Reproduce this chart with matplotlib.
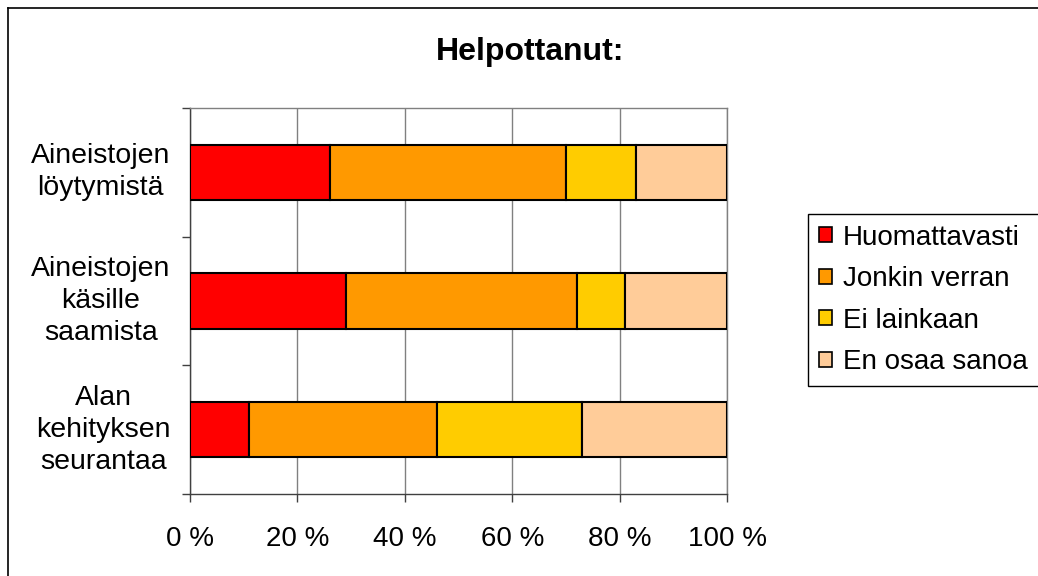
import matplotlib
matplotlib.use("Agg")
import matplotlib.pyplot as plt
from matplotlib.patches import Patch
from matplotlib.lines import Line2D
import numpy as np

plt.rcParams['font.family'] = ['Liberation Sans', 'DejaVu Sans']

categories = ["Aineistojen\nlöytymistä", "Aineistojen\nkäsille\nsaamista", "Alan\nkehityksen\nseurantaa"]
series = ["Huomattavasti", "Jonkin verran", "Ei lainkaan", "En osaa sanoa"]
huomattavasti = [26, 29, 11]
jonkin_verran = [44, 43, 35]
ei_lainkaan = [13, 9, 27]
en_osaa_sanoa = [17, 19, 27]
colors = ["#FF0000", "#FF9900", "#FFCC00", "#FFCC99"]
xticks = [0, 20, 40, 60, 80, 100]
xticklabels = ["0 %", "20 %", "40 %", "60 %", "80 %", "100 %"]
title = "Helpottanut:"

W, H = 1038, 576
fig = plt.figure(figsize=(W / 100, H / 100), dpi=100)
ax = fig.add_axes([190 / W, 1 - 494 / H, (727 - 190) / W, (494 - 108) / H])

y = np.arange(len(categories))
left = np.zeros(len(categories))
handles = []
for vals, col, name in zip([huomattavasti, jonkin_verran, ei_lainkaan, en_osaa_sanoa], colors, series):
    v = np.array(vals, dtype=float)
    ax.barh(y, v, left=left, height=0.43, color=col, edgecolor="black", linewidth=1.5, zorder=3)
    left += v
    handles.append(Patch(facecolor=col, edgecolor="black", linewidth=1.2, label=name))

ax.set_xlim(0, 100)
ax.set_ylim(len(categories) - 0.5, -0.5)
ax.set_xticks(xticks)
ax.set_xticklabels(xticklabels, fontsize=20)
ax.tick_params(axis="x", length=6, width=1, color="#404040", pad=17)
ax.set_yticks(y)
ax.set_yticklabels(categories, fontsize=20.5, va="center")
for lab in ax.get_yticklabels():
    lab.set_multialignment("center")
    lab.set_linespacing(1.3)
    lab.set_y(lab.get_position()[1])
ax.tick_params(axis="y", which="major", length=0, pad=14)
ax.set_yticks(np.arange(-0.5, len(categories), 1.0), minor=True)
ax.tick_params(axis="y", which="minor", length=6, width=1, color="#404040")

ax.grid(axis="x", color="#808080", linewidth=1, zorder=0)
ax.set_axisbelow(True)
ax.spines["top"].set_color("#808080")
ax.spines["right"].set_color("#808080")
ax.spines["left"].set_color("#404040")
ax.spines["bottom"].set_color("#404040")
for s in ax.spines.values():
    s.set_linewidth(1)

fig.text(530 / W, 1 - 52 / H, title, ha="center", va="center", fontsize=23, fontweight="bold")

leg = fig.legend(handles=handles, loc="center left", bbox_to_anchor=(808 / W, 1 - 300 / H),
                 fontsize=20, frameon=True, fancybox=False, framealpha=1, edgecolor="black",
                 handlelength=0.45, handleheight=0.45, handletextpad=0.4, labelspacing=0.56,
                 borderpad=0.4, borderaxespad=0)
leg.get_frame().set_linewidth(1)

# outer chart border
fig.add_artist(Line2D([7.5 / W, 7.5 / W], [0, 1 - 7.5 / H], transform=fig.transFigure, color="black", linewidth=1.2))
fig.add_artist(Line2D([7.5 / W, 1], [1 - 7.5 / H, 1 - 7.5 / H], transform=fig.transFigure, color="black", linewidth=1.2))

fig.savefig("out.png", dpi=100)
